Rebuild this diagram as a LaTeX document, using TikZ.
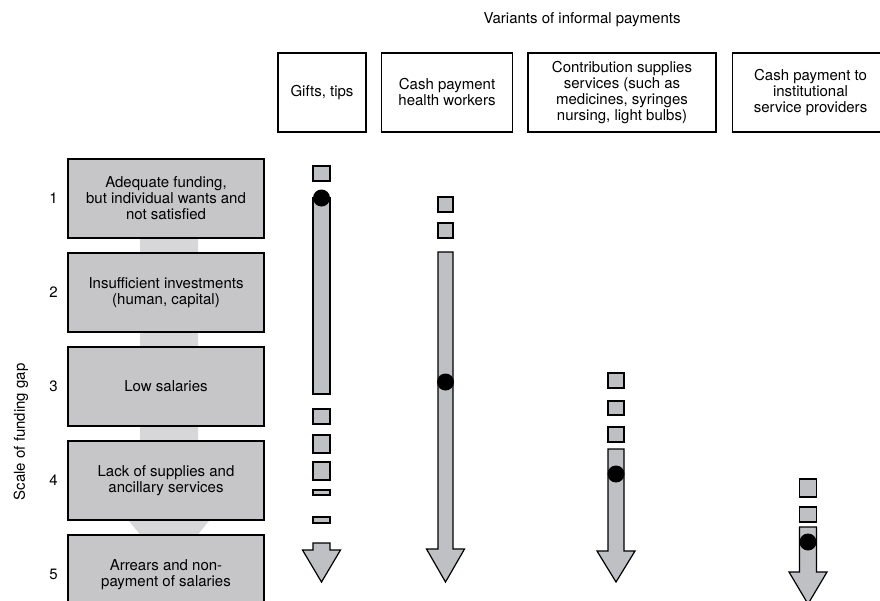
\documentclass[tikz,border=0pt]{standalone}
\usepackage{fontspec}
\setmainfont{TeX Gyre Heros}
\usepackage{xcolor}
\usetikzlibrary{positioning}

\definecolor{bandgray}{HTML}{D7D7D9}
\definecolor{levelgray}{HTML}{C6C6C8}
\definecolor{arrowgray}{HTML}{BFC0C4}

\begin{document}
\begin{tikzpicture}[x=1pt,y=-1pt,font=\fontsize{15}{16}\selectfont]
  \tikzstyle{level}=[draw,line width=1.4pt,fill=levelgray,align=center,minimum width=196pt,minimum height=79pt,inner sep=2pt]
  \tikzstyle{variant}=[draw,line width=1.5pt,fill=white,align=center,minimum height=79pt,inner sep=2pt]
  \tikzstyle{seg}=[draw,line width=1.2pt,fill=arrowgray]
  \useasboundingbox (0,0) rectangle (880,600);
  % background arrow behind the levels
  \fill[bandgray] (140,200) -- (198,200) -- (198,505) -- (222,505) -- (169,570) -- (116,505) -- (140,505) -- cycle;
  % scale of funding gap
  \node[level] (lvl1) at (166,198.5) {Adequate funding,\\but individual wants and\\not satisfied};
  \node[level,below=13.6pt of lvl1] (lvl2) {Insufficient investments\\(human, capital)};
  \node[level,below=13.6pt of lvl2] (lvl3) {Low salaries};
  \node[level,below=13.6pt of lvl3] (lvl4) {Lack of supplies and\\ancillary services};
  \node[level,below=13.6pt of lvl4] (lvl5) {Arrears and non-\\payment of salaries};
  \foreach \i in {1,...,5}
    \node[left=6pt of lvl\i] (num\i) {\i};
  \node[rotate=90] (scale) at (21,432) {Scale of funding gap};
  % variants of informal payments
  \node (title) at (582,20) {Variants of informal payments};
  \node[variant,minimum width=88pt] (gifts) at (322,92.5) {Gifts, tips};
  \node[variant,minimum width=131pt,right=14pt of gifts] (cash) {Cash payment\\health workers};
  \node[variant,minimum width=188pt,right=14pt of cash] (supplies) {Contribution supplies\\services (such as\\medicines, syringes\\nursing, light bulbs)};
  \node[variant,minimum width=156pt,right=15pt of supplies] (inst) {Cash payment to\\institutional\\service providers};
  % broken segments
  \foreach \cx/\hw/\ya/\yb in {321.5/8.5/166/181,321.5/8.5/198/394,321.5/8.5/409/424,321.5/8.5/435/453,
      321.5/8.5/462/480,321.5/8.5/490/495,321.5/8.5/517/523,
      445.5/7.5/197/212,445.5/7.5/223/238,
      616/8/373/388,616/8/401/415,616/8/427/442,
      808/8.5/479/497,808/8.5/507/522}
    \draw[seg] (\cx-\hw,\ya) rectangle (\cx+\hw,\yb);
  % block arrows
  \foreach \cx/\hw/\ya/\yb/\yt in {321.5/8.5/543/550/582,445.5/7.5/252/549/582,616/8/449/551/582,808/8.5/527/572/604}
    \draw[seg,line join=miter] (\cx-\hw,\ya) -- (\cx+\hw,\ya) -- (\cx+\hw,\yb) -- (\cx+19,\yb)
      -- (\cx,\yt) -- (\cx-19,\yb) -- (\cx-\hw,\yb) -- cycle;
  % position of each variant
  \foreach \cx/\cy in {321.5/198,445.5/382,616/474,808/542}
    \fill (\cx,\cy) circle (8.5pt);
\end{tikzpicture}
\end{document}
